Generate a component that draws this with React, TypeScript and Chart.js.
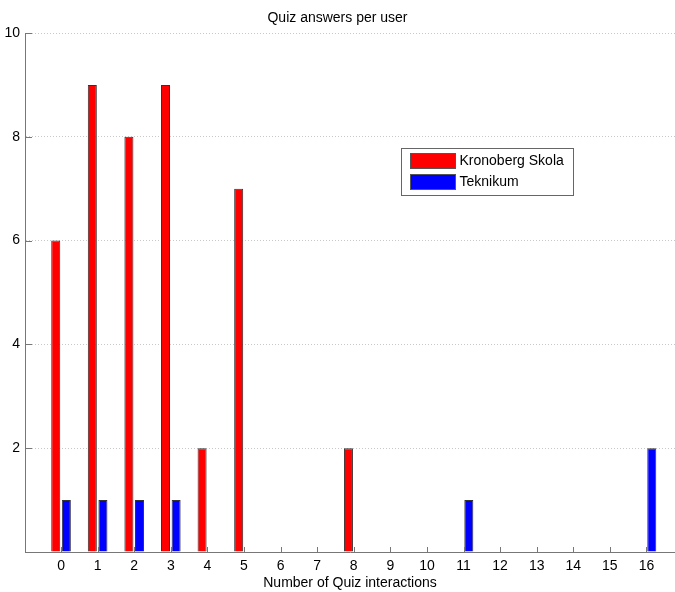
import React, { useEffect, useRef } from "react";
import { Chart, registerables } from "chart.js";

Chart.register(...registerables);

const categories = [0, 1, 2, 3, 4, 5, 6, 7, 8, 9, 10, 11, 12, 13, 14, 15, 16];
const kronobergValues = [6, 9, 8, 9, 2, 7, 0, 0, 2, 0, 0, 0, 0, 0, 0, 0, 0];
const teknikumValues = [1, 1, 1, 1, 0, 0, 0, 0, 0, 0, 0, 1, 0, 0, 0, 0, 2];
const seriesNames = ["Kronoberg Skola", "Teknikum"];
const yTicks = [0, 2, 4, 6, 8, 10];

const FONT = "'Liberation Sans', Arial, Helvetica, sans-serif";

const innerTicksPlugin = {
  id: "innerTicks",
  afterDatasetsDraw(chart: any) {
    const { ctx, chartArea } = chart;
    const xs = chart.scales.x;
    const ys = chart.scales.y;
    ctx.save();
    ctx.strokeStyle = "#777";
    ctx.lineWidth = 1;
    ctx.beginPath();
    for (const v of categories) {
      const px = Math.round(xs.getPixelForValue(v)) + 0.5;
      ctx.moveTo(px, chartArea.bottom);
      ctx.lineTo(px, chartArea.bottom - 5);
    }
    for (const v of yTicks) {
      const py = Math.round(ys.getPixelForValue(v)) + 0.5;
      ctx.moveTo(chartArea.left, py);
      ctx.lineTo(chartArea.left + 7, py);
    }
    ctx.stroke();
    ctx.restore();
  },
};

const boxLegendPlugin = {
  id: "boxLegend",
  afterDraw(chart: any) {
    const { ctx } = chart;
    const xs = chart.scales.x;
    const ys = chart.scales.y;
    // anchor legend box in data space (upper right of the plot)
    const left = Math.round(xs.getPixelForValue(9.285)) + 0.5;
    const top = Math.round(ys.getPixelForValue(7.775)) + 0.5;
    const w = 172;
    const h = 47;
    ctx.save();
    ctx.fillStyle = "#fff";
    ctx.fillRect(left, top, w, h);
    ctx.strokeStyle = "#666";
    ctx.lineWidth = 1;
    ctx.strokeRect(left, top, w, h);
    ctx.font = `14px ${FONT}`;
    ctx.textBaseline = "middle";
    ctx.textAlign = "left";
    chart.data.datasets.forEach((ds: any, i: number) => {
      const sy = top + 5 + i * 21;
      ctx.fillStyle = ds.backgroundColor;
      ctx.fillRect(left + 9, sy, 45, 15);
      ctx.strokeStyle = "#555";
      ctx.strokeRect(left + 9, sy, 45, 15);
      ctx.fillStyle = "#000";
      ctx.fillText(ds.label, left + 58, sy + 8);
    });
    ctx.restore();
  },
};

export default function App() {
  const ref = useRef<HTMLCanvasElement>(null);
  useEffect(() => {
    document.body.style.margin = "0";
    const canvas = ref.current!;
    const chart = new Chart(canvas, {
      type: "bar",
      data: {
        datasets: [
          {
            label: seriesNames[0],
            data: categories.map((c, i) => ({ x: c, y: kronobergValues[i] })),
            backgroundColor: "#ff0000",
            borderColor: "#333",
            borderWidth: 1,
            borderSkipped: "start",
            categoryPercentage: 0.58,
            barPercentage: 0.85,
          },
          {
            label: seriesNames[1],
            data: categories.map((c, i) => ({ x: c, y: teknikumValues[i] })),
            backgroundColor: "#0000ff",
            borderColor: "#333",
            borderWidth: 1,
            borderSkipped: "start",
            categoryPercentage: 0.58,
            barPercentage: 0.85,
          },
        ],
      },
      options: {
        animation: false,
        responsive: false,
        maintainAspectRatio: false,
        layout: { padding: { left: 0, right: 0, top: 0, bottom: 0 } },
        font: { family: FONT, size: 14 },
        plugins: {
          legend: { display: false },
          tooltip: { enabled: false },
          title: {
            display: true,
            text: "Quiz answers per user",
            color: "#000",
            font: { family: FONT, size: 14, weight: "normal" },
            padding: { top: 9.6, bottom: 6.6 },
          },
        },
        scales: {
          x: {
            type: "linear",
            min: -0.985,
            max: 16.78,
            offset: false,
            afterBuildTicks: (s: any) => {
              s.ticks = categories.map((v) => ({ value: v }));
            },
            afterFit: (s: any) => {
              s.height = 40;
            },
            grid: { display: false, drawTicks: false },
            border: { display: true, color: "#777", width: 1 },
            ticks: {
              color: "#000",
              padding: 6,
              maxRotation: 0,
              autoSkip: false,
              font: { family: FONT, size: 14 },
            },
            title: {
              display: true,
              text: "Number of Quiz interactions",
              color: "#000",
              font: { family: FONT, size: 14 },
              padding: { top: 0, bottom: 0 },
            },
          },
          y: {
            min: 0,
            max: 10,
            afterBuildTicks: (s: any) => {
              s.ticks = yTicks.map((v) => ({ value: v }));
            },
            afterFit: (s: any) => {
              s.width = 25;
            },
            grid: {
              color: (c: any) => (c.tick && c.tick.value === 0 ? "rgba(0,0,0,0)" : "#c8c8c8"),
              drawTicks: false,
            },
            border: { display: true, color: "#777", width: 1, dash: [1, 2] },
            ticks: {
              color: "#000",
              padding: 5,
              font: { family: FONT, size: 14 },
              callback: (v: any) => (v === 0 ? "" : String(v)),
            },
          },
        },
      } as any,
      plugins: [innerTicksPlugin, boxLegendPlugin],
    });
    return () => chart.destroy();
  }, []);
  return (
    <div style={{ position: "relative", width: 675, height: 592, background: "#fff" }}>
      <canvas ref={ref} width={675} height={592} style={{ display: "block", width: 675, height: 592 }} />
    </div>
  );
}
